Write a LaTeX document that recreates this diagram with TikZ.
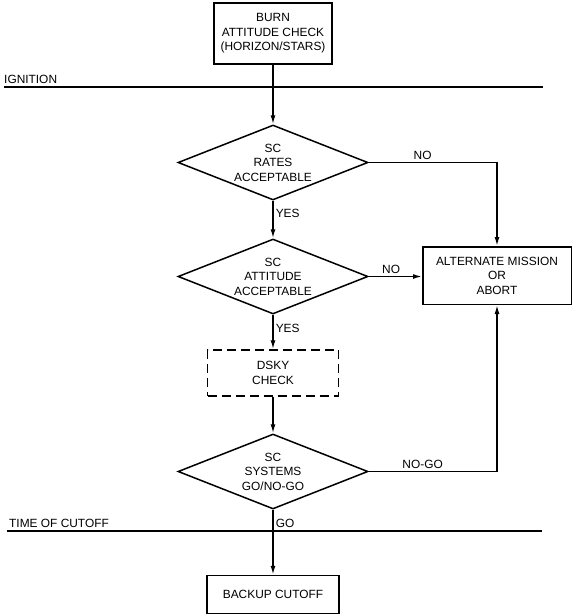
\documentclass[tikz,border=0pt]{standalone}
\usepackage{fontspec}
\setmainfont{Liberation Sans}
\usetikzlibrary{arrows.meta}
\usetikzlibrary{shapes.geometric}
\tikzset{box/.style = {draw, line width = 1.5pt, align = center, inner sep = 0}}
\tikzset{test/.style = {draw, diamond, aspect = 2.5, line width = 1.5pt, align = center, inner sep = 0, minimum width = 190pt, minimum height = 75pt}}
\tikzset{flow/.style = {line width = 1.5pt, -{Latex[length = 9pt, width = 5pt]}}}
\tikzset{epoch/.style = {line width = 1.5pt}}
\tikzset{tag/.style = {anchor = base west, inner sep = 0}}
\tikzset{answer/.style = {inner sep = 2pt}}

\begin{document}
\begin{tikzpicture}[x = 1pt, y = -1pt, font = \fontsize{11.9}{14.5}\selectfont]
      \useasboundingbox (0, 0) rectangle (575, 614);

      \draw [epoch] (4, 87) -- (543, 87);
      \node [tag] (ignition) at (4, 83.5) {IGNITION};
      \draw [epoch] (7, 531) -- (542, 531);
      \node [tag] (cutoff) at (9, 527.5) {TIME OF CUTOFF};

      \node [box, minimum width = 118pt, minimum height = 61pt] (burn) at (273, 33.5) {BURN\\ATTITUDE CHECK\\(HORIZON/STARS)};
      \node [test] (rates) at (273, 162.5) {SC\\RATES\\ACCEPTABLE};
      \node [test] (att) at (273, 276.5) {SC\\ATTITUDE\\ACCEPTABLE};
      \node [box, dash pattern = on 9pt off 5pt, minimum width = 131pt, minimum height = 46pt] (dsky) at (273, 373) {DSKY\\CHECK};
      \node [test] (sys) at (273, 471.5) {SC\\SYSTEMS\\GO/NO-GO};
      \node [box, minimum width = 132pt, minimum height = 38pt] (backup) at (273, 594.5) {BACKUP CUTOFF};
      \node [box, minimum width = 148.5pt, minimum height = 57.5pt] (alt) at (497, 275.5) {ALTERNATE MISSION\\OR\\ABORT};

      \draw [flow] (burn) -- (rates);
      \draw [flow] (rates) -- node [answer, pos = 0.33, right] (yes1) {YES} (att);
      \draw [flow] (att) -- node [answer, pos = 0.39, right] (yes2) {YES} (dsky);
      \draw [flow] (dsky) -- (sys);
      \draw [flow] (sys) -- node [answer, pos = 0.21, right] (go) {GO} (backup);
      \draw [flow] (rates.east) -| node [answer, pos = 0.21, above] (no1) {NO} (alt.north);
      \draw [flow] (att.east) -- node [answer, pos = 0.42, above] (no2) {NO} (att.east -| alt.west);
      \draw [flow] (sys.east) -| node [answer, pos = 0.21, above] (nogo) {NO-GO} (alt.south);
    \end{tikzpicture}
\end{document}
